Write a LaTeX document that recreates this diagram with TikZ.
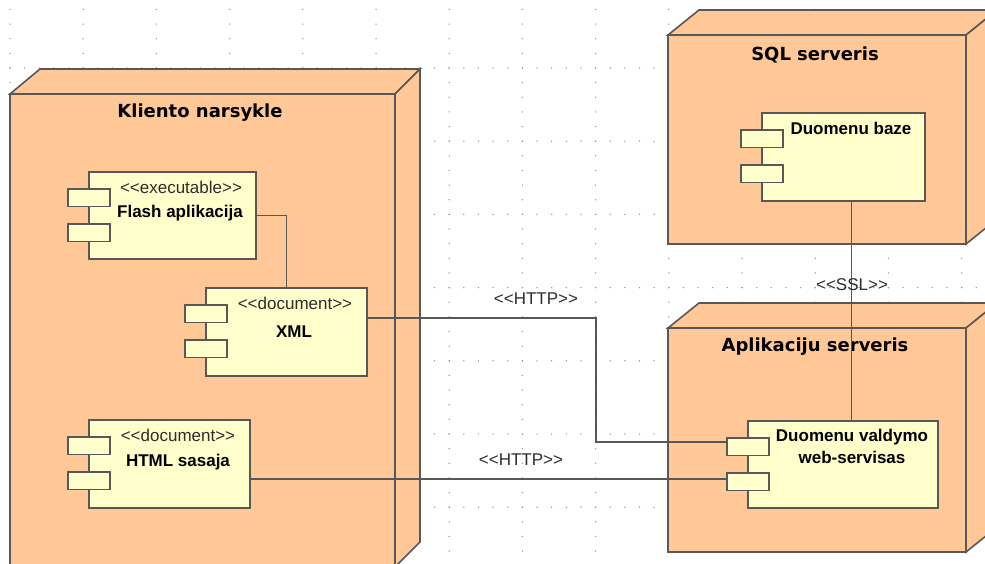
\documentclass[tikz,border=0pt]{standalone}
\usepackage{fontspec}
\setmainfont{Liberation Sans}
\newfontfamily\titlefont{DejaVu Sans}

\definecolor{nodefill}{RGB}{255,200,150}
\definecolor{compfill}{RGB}{255,255,204}
\definecolor{edgegray}{RGB}{88,88,88}
\definecolor{griddot}{RGB}{150,150,150}
\definecolor{stereo}{RGB}{45,45,45}

\tikzset{
  box3d/.style={draw=edgegray, fill=nodefill, line width=1.6pt, line join=miter},
  comp/.style={draw=edgegray, fill=compfill, line width=1.6pt, rectangle, inner sep=0pt, outer sep=0pt, anchor=north west},
  port/.style={draw=edgegray, fill=compfill, line width=1.6pt, rectangle, inner sep=0pt, outer sep=0pt,
               minimum width=42pt, minimum height=17.5pt, anchor=north west},
  wire/.style={draw=edgegray, line width=1.6pt},
  nodetitle/.style={font=\titlefont\bfseries\fontsize{18}{22}\selectfont, inner sep=0pt},
  cname/.style={font=\bfseries\fontsize{17}{22}\selectfont, inner sep=0pt, align=center},
  stype/.style={font=\fontsize{17}{20}\selectfont, text=stereo, inner sep=0pt},
}

% guillemet-free stereotype brackets
\newcommand\stereoname[1]{{<}{<}#1{>}{>}}

% front face x1,y1,x2,y2; depth of left and right slant
\newcommand\serverbox[6]{%
  \filldraw[box3d] (#1,#2) rectangle (#3,#4);
  \filldraw[box3d] (#1,#2) -- (#1+#5,#2-25) -- (#3+#6,#2-25) -- (#3,#2) -- cycle;
  \filldraw[box3d] (#3,#2) -- (#3+#6,#2-25) -- (#3+#6,#4-25) -- (#3,#4) -- cycle;
}

% component: name, x, y (top left), width, height
\newcommand\component[5]{%
  \node[comp, minimum width=#4pt, minimum height=#5pt] (#1) at (#2,#3) {};
  \node[port] (#1-p1) at (#2-21,#3+17) {};
  \node[port] (#1-p2) at (#2-21,#3+52) {};
}

\begin{document}
\begin{tikzpicture}[x=1pt, y=-1pt]
  \useasboundingbox (0,0) rectangle (985,564);
  \clip (0,0) rectangle (985,564);
  \fill[white] (0,0) rectangle (985,564);

  % dotted grid
  \foreach \i in {0,...,13}
    \foreach \j in {0,...,38}
      \fill[griddot] (10+73.2*\i, 9.44+14.64*\j) circle (0.75);
  \foreach \j in {0,...,6}
    \foreach \i in {0,...,67}
      \fill[griddot] (10+14.64*\i, 68+73.2*\j) circle (0.75);

  % deployment nodes
  \serverbox{10}{94}{395}{567}{30}{25}
  \serverbox{668}{35}{966}{244}{31}{31}
  \serverbox{668}{328}{966}{552}{31}{31}

  \node[nodetitle] (tklient) at (200,113) {Kliento narsykle};
  \node[nodetitle] (tsql) at (815,55) {SQL serveris};
  \node[nodetitle] (tapp) at (815,347) {Aplikaciju serveris};

  % components
  \component{flash}{89}{172}{167}{87}
  \component{xml}{206}{288}{161}{88}
  \component{html}{89}{420}{161}{88}
  \component{baze}{762}{113}{163}{88}
  \component{ws}{748}{421}{190}{87}

  \node[stype] (sflash) at (181,187) {\stereoname{executable}};
  \node[cname] (nflash) at (180,213) {Flash aplikacija};
  \node[stype] (sxml) at (295,303) {\stereoname{document}};
  \node[cname] (nxml) at (294,332) {XML};
  \node[stype] (shtml) at (178,435) {\stereoname{document}};
  \node[cname] (nhtml) at (178,462) {HTML sasaja};
  \node[cname] (nbaze) at (851,128) {Duomenu baze};
  \node[cname] (nws) at (852,446) {Duomenu valdymo\\web-servisas};

  % connectors
  \draw[wire] (flash.east) -| (xml.north);
  \draw[wire] ([yshift=14pt]xml.east) -- ++(229,0) |- ([yshift=4.5pt]ws-p1.west);
  \draw[wire] ([yshift=-15pt]html.east) -- ([yshift=-15pt]html.east -| ws-p2.west);
  \draw[wire] ([xshift=8pt]baze.south) -- ([xshift=8pt]baze.south |- ws.north);

  \node[stype] (lhttp1) at (536,299) {\stereoname{HTTP}};
  \node[stype] (lhttp2) at (521,460) {\stereoname{HTTP}};
  \node[stype] (lssl) at (852,285) {\stereoname{SSL}};
\end{tikzpicture}
\end{document}
